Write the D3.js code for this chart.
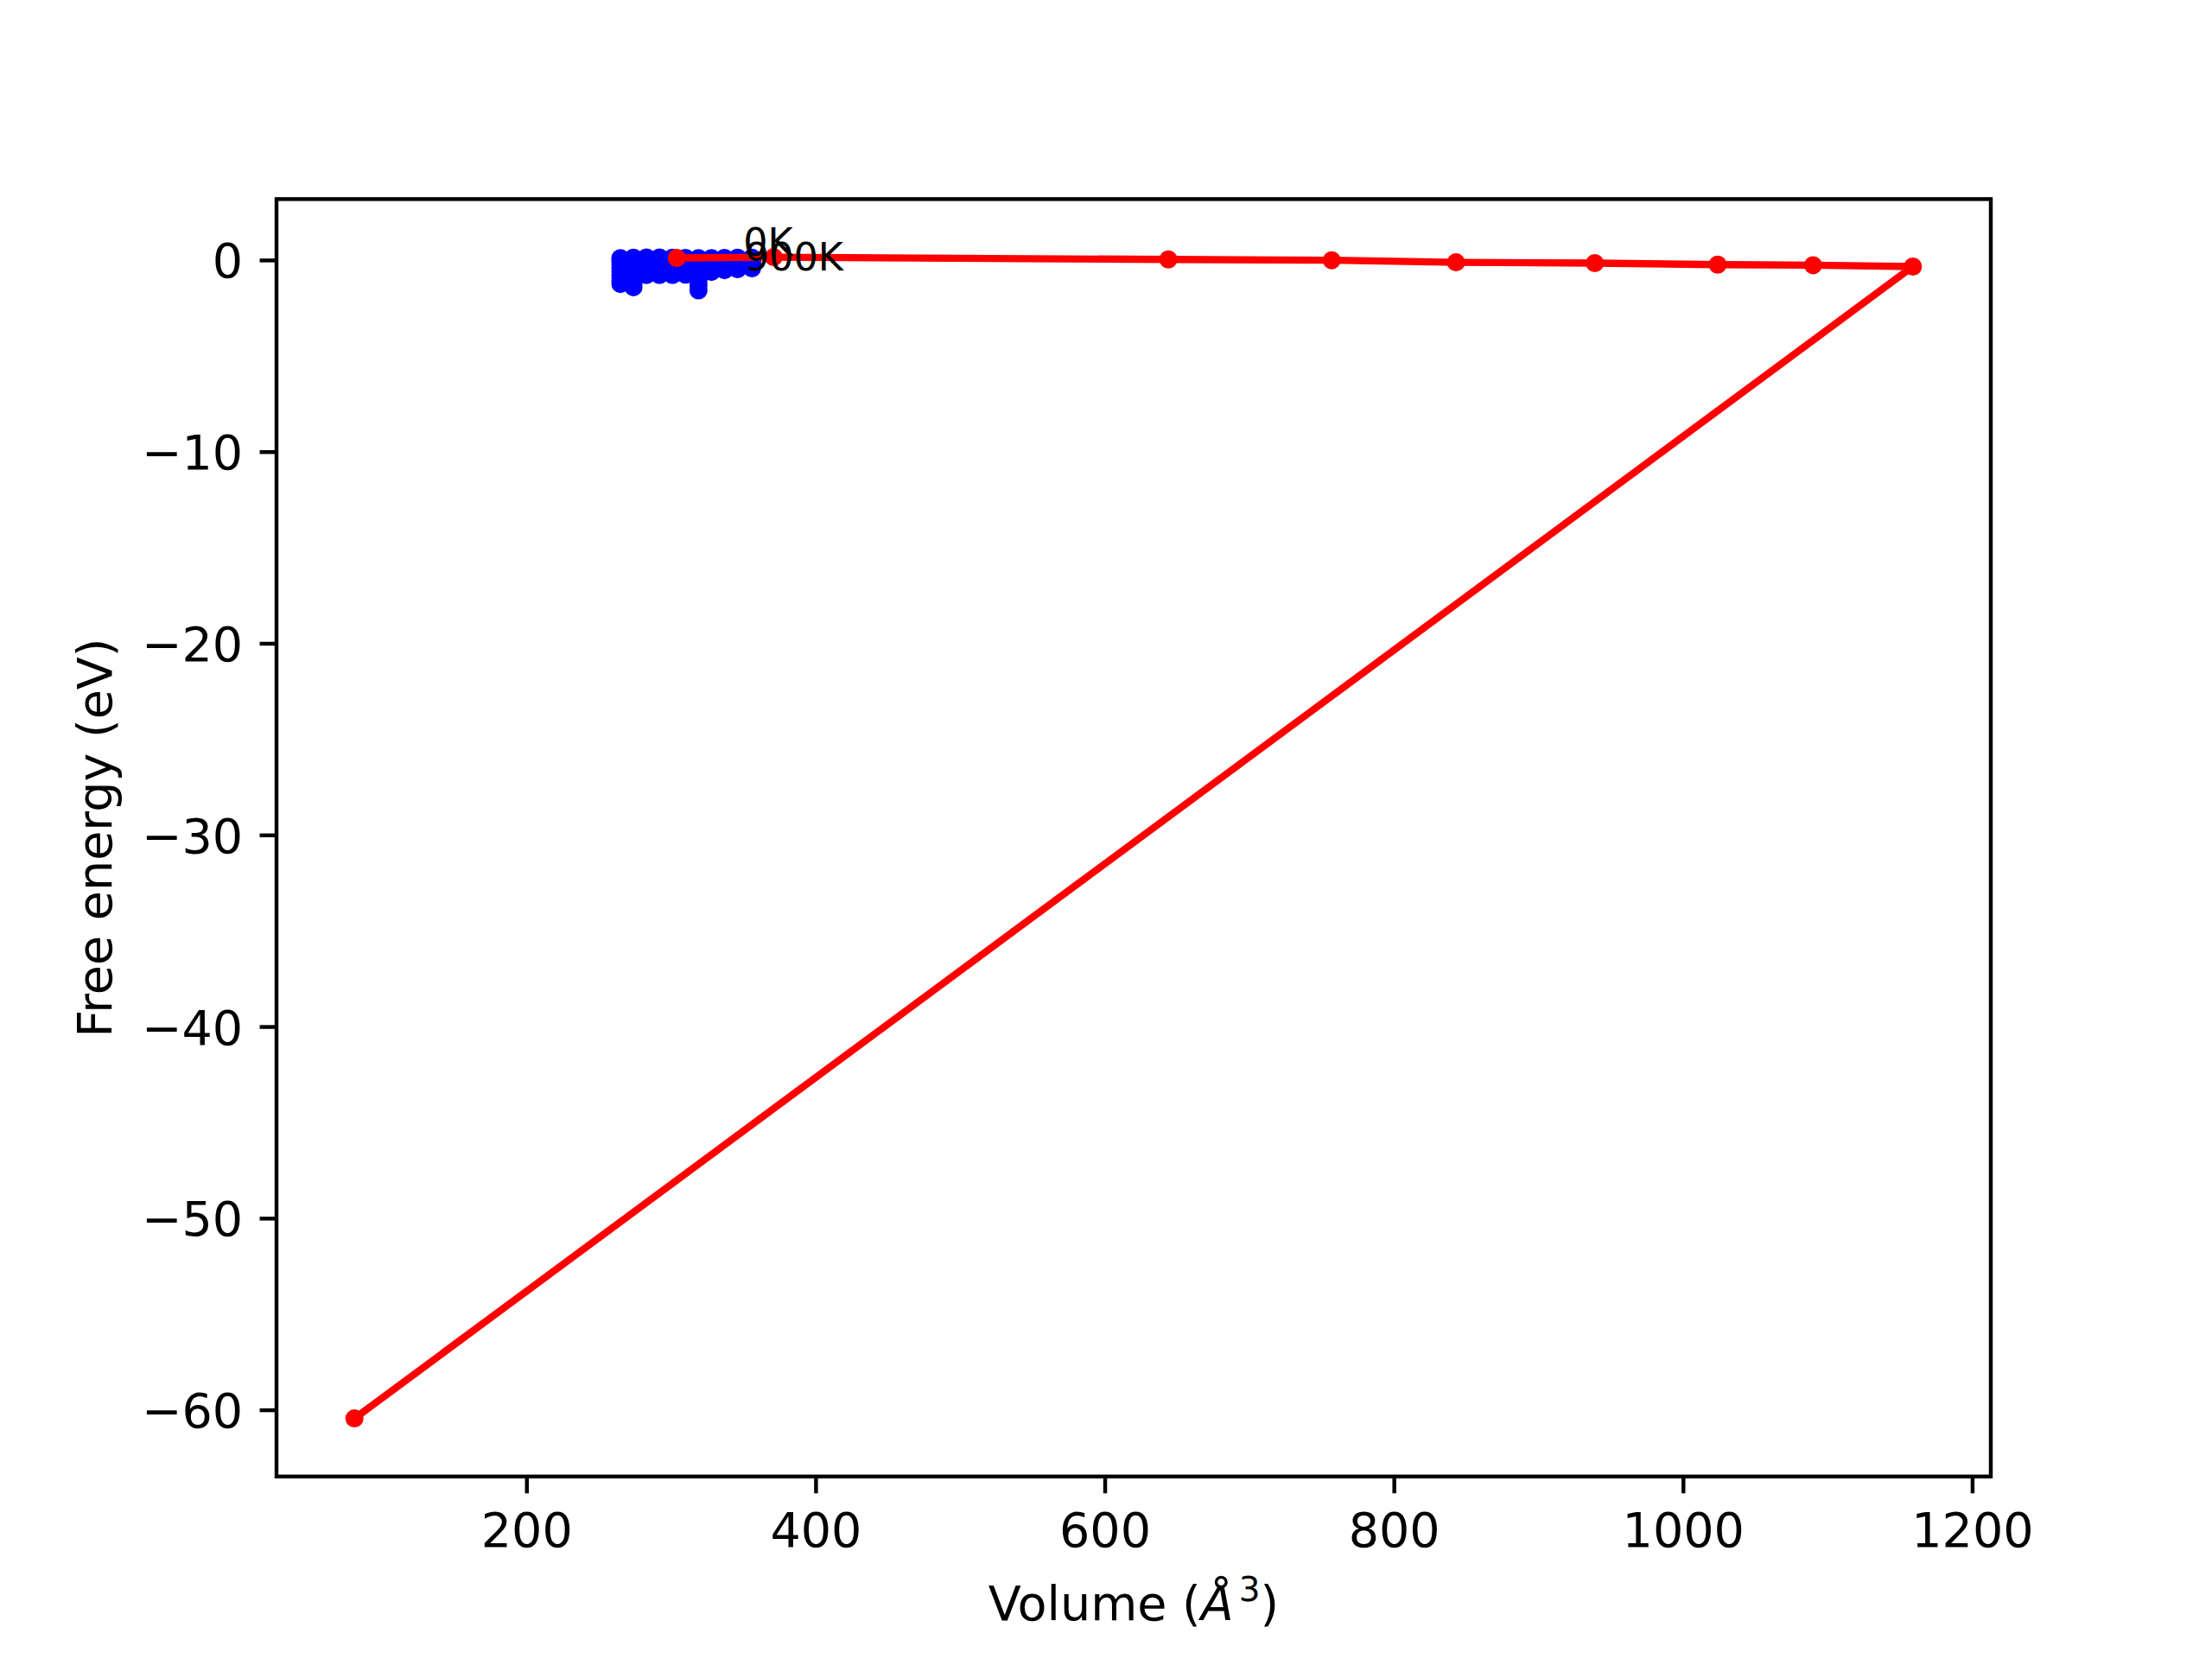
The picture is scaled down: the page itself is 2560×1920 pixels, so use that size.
<!DOCTYPE html>
<html>
<head>
<meta charset="utf-8">
<script src="https://cdn.jsdelivr.net/npm/d3@7"></script>
<style>
  html, body { margin: 0; padding: 0; background: #fff; }
  text { font-family: "DejaVu Sans", sans-serif; fill: #000; }
</style>
</head>
<body>
<svg id="chart" width="2560" height="1920"></svg>
<script>
// ---- data ----
const blueVolumes = [265, 274, 283, 292, 301, 310, 319, 328, 337, 346, 356];
const blueTemps = [0, 100, 200, 300, 400, 500, 600, 700, 800, 900];
const blueEnergies = [
  [0.10, 0.12, 0.13, 0.13, 0.12, 0.11, 0.10, 0.10, 0.11, 0.12, 0.12],
  [0.02, 0.05, 0.06, 0.06, 0.05, 0.04, 0.03, 0.04, 0.05, 0.06, 0.07],
  [-0.10, -0.08, -0.06, -0.05, -0.05, -0.06, -0.08, -0.06, -0.04, -0.03, -0.02],
  [-0.25, -0.22, -0.18, -0.16, -0.15, -0.16, -0.20, -0.14, -0.11, -0.09, -0.08],
  [-0.42, -0.40, -0.30, -0.27, -0.26, -0.27, -0.36, -0.24, -0.19, -0.16, -0.14],
  [-0.60, -0.62, -0.42, -0.39, -0.38, -0.38, -0.55, -0.33, -0.27, -0.24, -0.21],
  [-0.78, -0.84, -0.54, -0.51, -0.50, -0.50, -0.78, -0.42, -0.35, -0.31, -0.27],
  [-0.95, -1.06, -0.64, -0.62, -0.61, -0.60, -1.02, -0.50, -0.42, -0.38, -0.33],
  [-1.10, -1.25, -0.72, -0.71, -0.70, -0.69, -1.30, -0.57, -0.48, -0.44, -0.38],
  [-1.25, -1.42, -0.78, -0.78, -0.78, -0.76, -1.58, -0.62, -0.53, -0.48, -0.43]
];
const redVolumes = [304, 371, 644, 757, 843, 939, 1024, 1090, 1159, 81];
const redEnergies = [0.11, 0.15, 0.03, -0.01, -0.12, -0.16, -0.24, -0.27, -0.34, -60.45];
const annotationLabels = ["0K", "900K"];
const annotationX = [350, 351];
const annotationY = [0.23, -0.53];
const xTicks = [200, 400, 600, 800, 1000, 1200];
const yTicks = [0, -10, -20, -30, -40, -50, -60];
const xLabel = "Volume";
const yLabel = "Free energy (eV)";

(function () {
// ---- layout ----
const mLeft = 320, mRight = 2304, mTop = 230.4, mBottom = 1708.8;
const pt = 400 / 72;
const fontSize = 10 * pt;

const svg = d3.select("#chart");

const bluePoints = [];
blueEnergies.forEach((row, ti) => row.forEach((e, vi) => bluePoints.push({v: blueVolumes[vi], e: e, t: blueTemps[ti]})));
const redPoints = redVolumes.map((v, i) => ({v: v, e: redEnergies[i]}));

const allV = bluePoints.map(d => d.v).concat(redVolumes);
const allE = bluePoints.map(d => d.e).concat(redEnergies);
const [vmin, vmax] = d3.extent(allV);
const [emin, emax] = d3.extent(allE);
const mx = (vmax - vmin) * 0.05, my = (emax - emin) * 0.05;

const x = d3.scaleLinear().domain([vmin - mx, vmax + mx]).range([mLeft, mRight]);
const y = d3.scaleLinear().domain([emin - my, emax + my]).range([mBottom, mTop]);

const plot = svg.append("g");
plot.append("defs").append("clipPath").attr("id", "clip")
  .append("rect").attr("x", mLeft).attr("y", mTop).attr("width", mRight - mLeft).attr("height", mBottom - mTop);

const marks = plot.append("g").attr("clip-path", "url(#clip)");

// blue markers
marks.append("g").selectAll("circle").data(bluePoints).enter().append("circle")
  .attr("cx", d => x(d.v)).attr("cy", d => y(d.e)).attr("r", 10.5)
  .attr("fill", "#0000ff");

// red line + markers
marks.append("path").datum(redPoints)
  .attr("d", d3.line().x(d => x(d.v)).y(d => y(d.e)))
  .attr("fill", "none").attr("stroke", "#ff0000").attr("stroke-width", 1.5 * pt)
  .attr("stroke-linejoin", "round").attr("stroke-linecap", "square");
marks.append("g").selectAll("circle").data(redPoints).enter().append("circle")
  .attr("cx", d => x(d.v)).attr("cy", d => y(d.e)).attr("r", 10.5)
  .attr("fill", "#ff0000");

// annotations
plot.append("g").selectAll("text").data(annotationLabels).enter().append("text")
  .attr("x", (d, i) => x(annotationX[i])).attr("y", (d, i) => y(annotationY[i]))
  .attr("font-size", 8 * pt).text(d => d);

// axes
const tickLen = 3.5 * pt, tickPad = 3.5 * pt, lw = 0.8 * pt;
const fmt = d3.format("d");
const minusFmt = d => (d < 0 ? "\u2212" + fmt(-d) : fmt(d));

const xAxis = svg.append("g").attr("transform", `translate(0,${mBottom})`)
  .call(d3.axisBottom(x).tickValues(xTicks).tickSize(tickLen).tickPadding(tickPad).tickFormat(minusFmt));
const yAxis = svg.append("g").attr("transform", `translate(${mLeft},0)`)
  .call(d3.axisLeft(y).tickValues(yTicks).tickSize(tickLen).tickPadding(tickPad).tickFormat(minusFmt));
[xAxis, yAxis].forEach(a => {
  a.select(".domain").remove();
  a.selectAll(".tick line").attr("stroke", "#000").attr("stroke-width", lw);
  a.selectAll(".tick text").attr("font-size", fontSize).attr("font-family", "DejaVu Sans").attr("fill", "#000");
});
xAxis.selectAll(".tick text").attr("dy", null).attr("y", tickLen + tickPad + 0.76 * fontSize);
yAxis.selectAll(".tick text").attr("dy", null).attr("y", 0.36 * fontSize);

// frame
svg.append("rect").attr("x", mLeft).attr("y", mTop).attr("width", mRight - mLeft).attr("height", mBottom - mTop)
  .attr("fill", "none").attr("stroke", "#000").attr("stroke-width", lw).attr("stroke-linejoin", "miter");

// x label with mathtext Å^3
const xl = svg.append("text").attr("x", (mLeft + mRight) / 2).attr("y", 1875)
  .attr("text-anchor", "middle").attr("font-size", fontSize);
xl.append("tspan").text(xLabel + " (");
xl.append("tspan").attr("font-style", "italic").text("\u00C5");
xl.append("tspan").attr("font-size", fontSize * 0.7).attr("dy", -0.4 * fontSize).attr("dx", 6).text("3");
xl.append("tspan").attr("dy", 0.4 * fontSize).text(")");

// y label
svg.append("text").attr("transform", `translate(129,${(mTop + mBottom) / 2}) rotate(-90)`)
  .attr("text-anchor", "middle").attr("font-size", fontSize).text(yLabel);
})();
</script>
</body>
</html>
